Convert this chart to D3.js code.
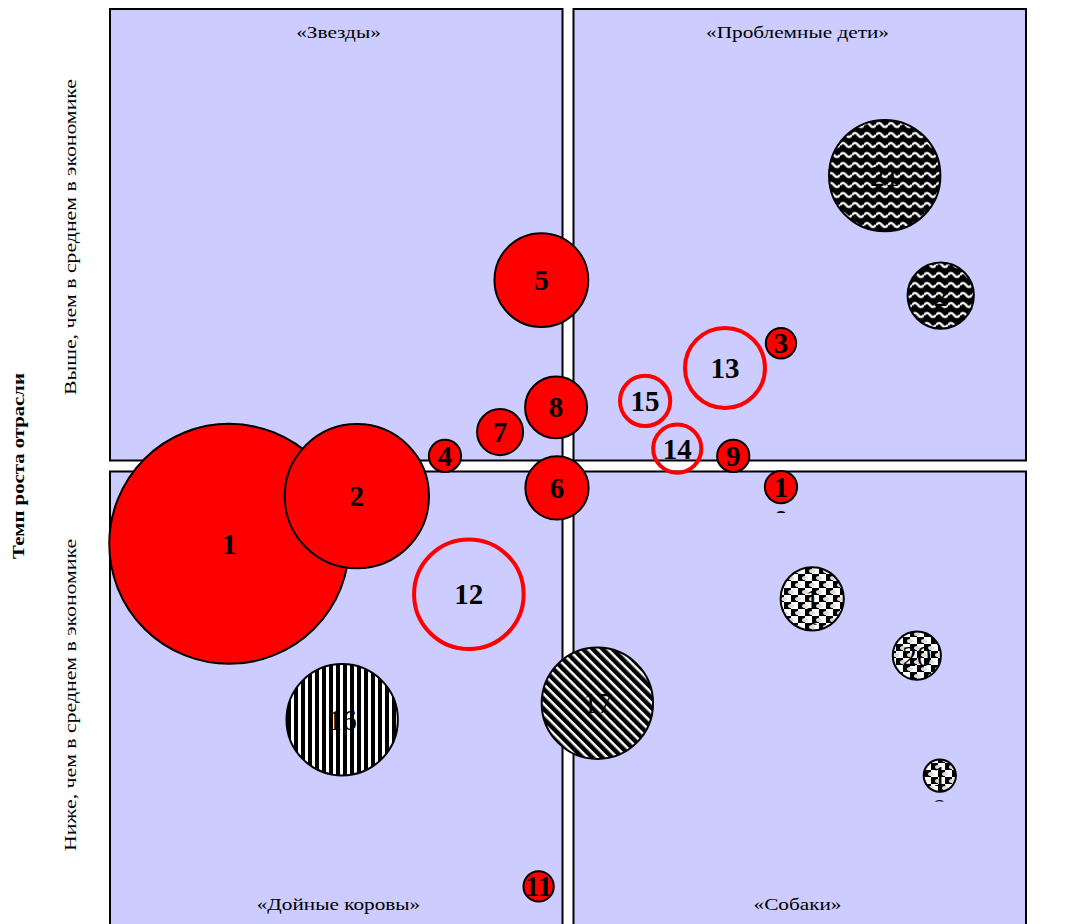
<!DOCTYPE html>
<html>
<head>
<meta charset="utf-8">
<title>BCG matrix</title>
<script src="https://d3js.org/d3.v7.min.js"></script>
<style>
  body { margin: 0; background: #fff; }
  text { font-family: "Liberation Serif", "Times New Roman", serif; }
</style>
</head>
<body>
<svg id="viz" width="1086" height="924"></svg>
<script>
// bubble numbers, positions (market share / growth, 0..100, centre = 50) and size
var ids    = ["1","2","3","4","5","6","7","8","9","10","11","12","13","14","15","16","17","18","19","20","21","22"];
var share  = [13.1, 27.0, 73.2, 36.6, 47.1, 48.8, 42.6, 48.7, 68.0, 73.2, 46.8, 39.2, 67.1, 61.9, 58.4, 25.4, 53.2, 76.6, 90.5, 88.0, 84.5, 90.6];
var growth = [41.5, 46.7, 63.4, 51.1, 70.3, 47.6, 53.7, 56.4, 51.1, 47.7, 4.1, 36.0, 60.7, 51.9, 57.1, 22.3, 24.1, 35.5, 16.2, 29.3, 81.7, 68.6];
var sizes  = [144, 52, 2.3, 2.6, 22, 10, 5.3, 9.6, 2.6, 2.6, 2.3, 30, 16, 5.8, 6.3, 31, 31, 10, 2.6, 5.8, 31, 11];
var kinds  = ["red","red","red","red","red","red","red","red","red","red","red","ring","ring","ring","ring","vstripe","diag","check","check","check","wave","wave"];
// labels that do not fit and wrap onto a second (cut off) line
var wrapped = ["10","18","19","22"];

var quadrantNames = ["«Звезды»", "«Проблемные дети»", "«Дойные коровы»", "«Собаки»"];
var axisTitle = "Темп роста отрасли";
var axisHigh = "Выше,  чем в среднем в экономике";
var axisLow = "Ниже,  чем в среднем в экономике";

var svg = d3.select("#viz");
var x = d3.scaleLinear().domain([0, 100]).range([109, 1027]);
var y = d3.scaleLinear().domain([0, 100]).range([924, 8]);
var r = d3.scaleSqrt().domain([0, 144]).range([0, 120]);

var defs = svg.append("defs");

// vertical stripes
var p = defs.append("pattern").attr("id", "vstripe").attr("patternUnits", "userSpaceOnUse")
  .attr("width", 7).attr("height", 7);
p.append("rect").attr("width", 7).attr("height", 7).attr("fill", "#fff");
p.append("rect").attr("width", 4).attr("height", 7).attr("fill", "#000");

// diagonal stripes
p = defs.append("pattern").attr("id", "diag").attr("patternUnits", "userSpaceOnUse")
  .attr("width", 7).attr("height", 7).attr("patternTransform", "rotate(-45)");
p.append("rect").attr("width", 7).attr("height", 7).attr("fill", "#fff");
p.append("rect").attr("width", 4.5).attr("height", 7).attr("fill", "#000");

// checker
p = defs.append("pattern").attr("id", "check").attr("patternUnits", "userSpaceOnUse")
  .attr("width", 14).attr("height", 14);
p.append("rect").attr("width", 14).attr("height", 14).attr("fill", "#fff");
p.append("rect").attr("width", 7).attr("height", 7).attr("fill", "#000");
p.append("rect").attr("x", 7).attr("y", 7).attr("width", 7).attr("height", 7).attr("fill", "#000");
p.append("ellipse").attr("cx", 7).attr("cy", 4).attr("rx", 3).attr("ry", 2).attr("fill", "#ddd");
p.append("ellipse").attr("cx", 0).attr("cy", 11).attr("rx", 3).attr("ry", 2).attr("fill", "#ddd");
p.append("ellipse").attr("cx", 14).attr("cy", 11).attr("rx", 3).attr("ry", 2).attr("fill", "#ddd");

// waves
p = defs.append("pattern").attr("id", "wave").attr("patternUnits", "userSpaceOnUse")
  .attr("width", 12).attr("height", 10);
p.append("rect").attr("width", 12).attr("height", 10).attr("fill", "#000");
var wavePath = "M0,5 Q3,1 6,5 T12,5";
p.append("path").attr("d", wavePath).attr("fill", "none").attr("stroke", "#888").attr("stroke-width", 3.2);
p.append("path").attr("d", wavePath).attr("fill", "none").attr("stroke", "#fff").attr("stroke-width", 1.4);

// quadrants, 10px white gap around the centre lines
var quads = [[0, 50, 50, 100], [50, 100, 50, 100], [0, 50, 0, 50], [50, 100, 0, 50]];
function qx0(d) { return d[0] > 0 ? x(d[0]) + 5.5 : x(d[0]) + 1; }
function qx1(d) { return d[1] < 100 ? x(d[1]) - 5.5 : x(d[1]) - 1; }
function qy0(d) { return d[3] < 100 ? y(d[3]) + 5.5 : y(d[3]) + 1; }
function qy1(d) { return d[2] > 0 ? y(d[2]) - 5.5 : y(d[2]) + 10; }
svg.selectAll(".quad").data(quads).enter().append("rect")
  .attr("class", "quad")
  .attr("x", qx0).attr("y", qy0)
  .attr("width", function(d) { return qx1(d) - qx0(d); })
  .attr("height", function(d) { return qy1(d) - qy0(d); })
  .attr("fill", "#ccccff").attr("stroke", "#000").attr("stroke-width", 2);

svg.selectAll(".qname").data(quadrantNames).enter().append("text")
  .attr("class", "qname")
  .attr("transform", function(d, i) {
    return "translate(" + x((quads[i][0] + quads[i][1]) / 2) + "," + (i < 2 ? 38 : 910) + ") scale(1.25,1)";
  })
  .attr("text-anchor", "middle").attr("font-size", 17).text(function(d) { return d; });

// left axis texts
svg.append("text").attr("transform", "translate(24," + y(50) + ") rotate(-90) scale(1.22,1)")
  .attr("text-anchor", "middle").attr("font-size", 17).attr("font-weight", "bold").text(axisTitle);
svg.append("text").attr("transform", "translate(76," + y(75) + ") rotate(-90) scale(1.28,1)")
  .attr("text-anchor", "middle").attr("font-size", 17).text(axisHigh);
svg.append("text").attr("transform", "translate(76," + y(25) + ") rotate(-90) scale(1.28,1)")
  .attr("text-anchor", "middle").attr("font-size", 17).text(axisLow);

// bubbles
var data = ids.map(function(id, i) {
  return { id: id, x: share[i], y: growth[i], s: sizes[i], kind: kinds[i] };
});

var g = svg.selectAll(".bubble").data(data).enter().append("g").attr("class", "bubble");

g.append("circle")
  .attr("cx", function(d) { return x(d.x); })
  .attr("cy", function(d) { return y(d.y); })
  .attr("r", function(d) { return r(d.s); })
  .attr("fill", function(d) {
    if (d.kind == "red") return "#ff0000";
    if (d.kind == "ring") return "none";
    return "url(#" + d.kind + ")";
  })
  .attr("stroke", function(d) { return d.kind == "ring" ? "#ff0000" : "#000"; })
  .attr("stroke-width", function(d) { return d.kind == "ring" ? 4 : 2; });

// clip for labels so wrapped second lines get cut like in the original
g.append("clipPath").attr("id", function(d) { return "clip" + d.id; })
  .append("rect")
  .attr("x", function(d) { return x(d.x) - r(d.s) - 10; })
  .attr("y", function(d) { return y(d.y) - r(d.s) - 10; })
  .attr("width", function(d) { return 2 * r(d.s) + 20; })
  .attr("height", function(d) { return wrapped.indexOf(d.id) >= 0 ? r(d.s) + 36 : 2 * r(d.s) + 20; });

var label = g.append("text")
  .attr("clip-path", function(d) { return "url(#clip" + d.id + ")"; })
  .attr("text-anchor", "middle")
  .attr("font-size", 29)
  .attr("font-weight", function(d) { return (d.kind == "red" || d.kind == "ring") ? "bold" : "normal"; })
  .attr("fill", "#000");

label.each(function(d) {
  var t = d3.select(this);
  var lines = wrapped.indexOf(d.id) >= 0 ? d.id.split("") : [d.id];
  lines.forEach(function(line, k) {
    t.append("tspan")
      .attr("x", x(d.x))
      .attr("y", y(d.y) + 10 + k * 33)
      .text(line);
  });
});
</script>
</body>
</html>
